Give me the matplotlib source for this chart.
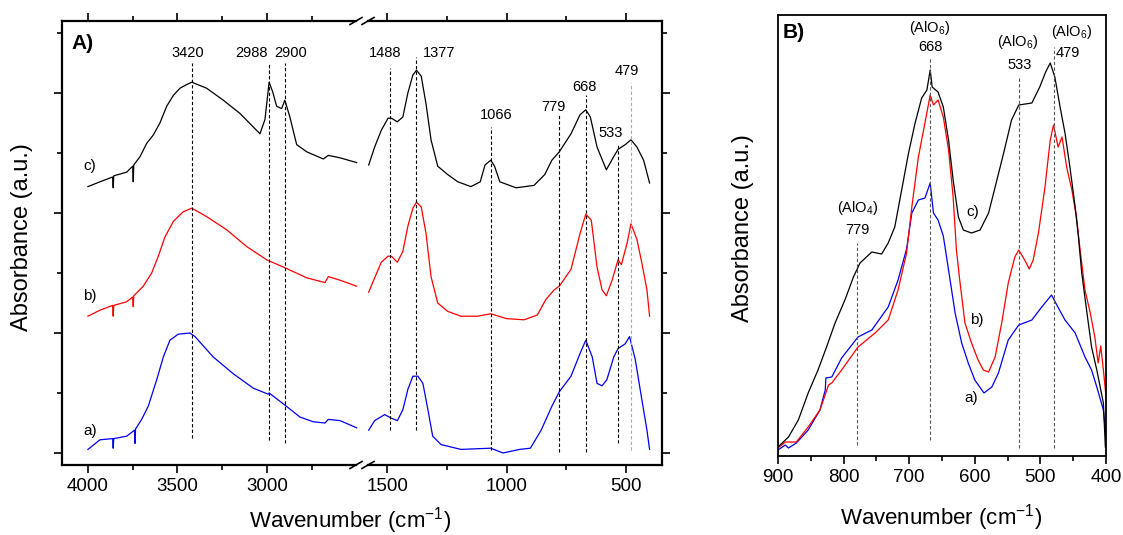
import matplotlib
matplotlib.use("Agg")
import matplotlib.pyplot as plt
from matplotlib.lines import Line2D
from matplotlib.ticker import FixedLocator, NullFormatter

plt.rcParams['font.family'] = ['Liberation Sans', 'DejaVu Sans']
plt.rcParams['mathtext.default'] = 'regular'

W, H = 1123, 535

# ---- panel A, high wavenumber part (4000-2500) ----
a_hi_wn = [4000, 3933, 3862, 3859, 3856, 3784, 3740, 3737, 3734, 3700, 3663, 3616, 3579,
           3542, 3496, 3430, 3402, 3300, 3188, 3076, 2993, 2988, 2909, 2816, 2741, 2676,
           2657, 2592, 2499]
a_hi_y = [0.03, 0.11, 0.12, 0.04, 0.12, 0.14, 0.19, 0.08, 0.2, 0.28, 0.39, 0.61, 0.80,
          0.94, 0.99, 1.0, 0.97, 0.80, 0.66, 0.54, 0.49, 0.5, 0.41, 0.30, 0.26, 0.25,
          0.28, 0.27, 0.21]

b_hi_wn = [4000, 3933, 3862, 3859, 3856, 3784, 3750, 3747, 3744, 3691, 3644, 3607, 3570,
           3523, 3468, 3420, 3337, 3225, 3113, 3002, 2909, 2778, 2676, 2657, 2592, 2499]
b_hi_y = [1.14, 1.19, 1.23, 1.14, 1.23, 1.26, 1.30, 1.22, 1.31, 1.39, 1.50, 1.64, 1.80,
          1.93, 2.01, 2.04, 1.97, 1.86, 1.72, 1.61, 1.55, 1.46, 1.42, 1.47, 1.44, 1.39]

c_hi_wn = [4000, 3933, 3862, 3859, 3856, 3784, 3750, 3747, 3744, 3709, 3672, 3635, 3598,
           3560, 3523, 3486, 3449, 3420, 3337, 3244, 3151, 3039, 3011, 2988, 2968, 2946,
           2918, 2900, 2872, 2834, 2778, 2685, 2657, 2592, 2499]
c_hi_y = [2.22, 2.26, 2.30, 2.21, 2.31, 2.34, 2.39, 2.26, 2.40, 2.47, 2.58, 2.65, 2.75,
          2.89, 2.98, 3.04, 3.07, 3.09, 3.04, 2.94, 2.83, 2.66, 2.78, 3.09, 3.01, 2.89,
          2.87, 2.94, 2.80, 2.57, 2.51, 2.45, 2.48, 2.46, 2.42]

# ---- panel A, low wavenumber part (1600-400) ----
a_lo_wn = [1577, 1552, 1510, 1482, 1457, 1434, 1413, 1392, 1371, 1350, 1329, 1309, 1274,
           1191, 1066, 1015, 945, 900, 855, 810, 779, 730, 692, 668, 641, 621, 600, 580,
           551, 533, 503, 485, 461, 433, 412, 401]
a_lo_y = [0.19, 0.27, 0.32, 0.29, 0.27, 0.36, 0.53, 0.64, 0.64, 0.58, 0.36, 0.14, 0.07,
          0.03, 0.04, 0.0, 0.03, 0.04, 0.19, 0.39, 0.51, 0.64, 0.83, 0.94, 0.80, 0.58,
          0.56, 0.61, 0.80, 0.87, 0.91, 0.97, 0.78, 0.44, 0.19, 0.03]

b_lo_wn = [1577, 1552, 1524, 1496, 1482, 1457, 1434, 1413, 1392, 1377, 1357, 1337, 1316,
           1288, 1246, 1191, 1121, 1066, 1000, 927, 871, 835, 800, 779, 730, 692, 668,
           645, 621, 600, 582, 558, 533, 519, 495, 479, 454, 433, 412, 401]
b_lo_y = [1.34, 1.46, 1.59, 1.64, 1.64, 1.59, 1.68, 1.89, 2.04, 2.09, 2.05, 1.83, 1.47,
          1.25, 1.18, 1.14, 1.14, 1.16, 1.12, 1.11, 1.15, 1.28, 1.36, 1.39, 1.53, 1.83,
          1.99, 1.94, 1.55, 1.36, 1.31, 1.44, 1.61, 1.57, 1.75, 1.91, 1.78, 1.58, 1.36,
          1.14]

c_lo_wn = [1577, 1552, 1524, 1496, 1482, 1457, 1434, 1413, 1392, 1377, 1357, 1337, 1316,
           1288, 1246, 1204, 1149, 1110, 1090, 1066, 1050, 1028, 960, 885, 840, 810, 779,
           730, 692, 668, 649, 621, 582, 551, 533, 503, 479, 454, 426, 401]
c_lo_y = [2.40, 2.55, 2.69, 2.79, 2.79, 2.76, 2.80, 3.00, 3.15, 3.19, 3.14, 2.91, 2.61,
          2.39, 2.32, 2.26, 2.22, 2.26, 2.40, 2.44, 2.39, 2.26, 2.21, 2.23, 2.32, 2.44,
          2.51, 2.66, 2.82, 2.86, 2.80, 2.55, 2.36, 2.47, 2.53, 2.57, 2.61, 2.55, 2.44,
          2.25]

# band markers of panel A: position, line top, line bottom, label x, label y
a_bands_hi = [3420, 2988, 2900]
a_bands_hi_top = [3.25, 3.25, 3.25]
a_bands_hi_bot = [0.125, 0.11, 0.08]
a_labels_hi_x = [3440, 3089, 2865]
a_labels_hi_y = [3.33, 3.33, 3.33]

a_bands_lo = [1488, 1377, 1066, 779, 668, 533, 479]
a_bands_lo_top = [3.21, 3.3, 2.72, 2.82, 2.98, 2.58, 3.08]
a_bands_lo_bot = [0.19, 0.19, 0.025, 0.01, 0.01, 0.08, 0.025]
a_labels_lo_x = [1508, 1282, 1044, 805, 672, 563, 496]
a_labels_lo_y = [3.33, 3.33, 2.82, 2.88, 3.05, 2.67, 3.18]

# ---- panel B, 900-400 ----
b_a_wn = [900, 889, 884, 872, 854, 836, 828, 827, 818, 803, 778, 757, 732, 717, 704, 696,
          686, 676, 668, 663, 656, 648, 640, 630, 620, 610, 600, 586, 574, 564, 549, 533,
          513, 498, 483, 475, 462.5, 447, 432, 422, 414, 404, 399]
b_a_y = [0.06, 0.11, 0.08, 0.13, 0.26, 0.46, 0.66, 0.78, 0.79, 0.98, 1.19, 1.26, 1.49,
         1.76, 2.07, 2.43, 2.56, 2.58, 2.73, 2.43, 2.36, 2.2, 1.86, 1.43, 1.13, 0.93,
         0.76, 0.63, 0.69, 0.83, 1.16, 1.31, 1.36, 1.49, 1.61, 1.51, 1.36, 1.23, 0.99,
         0.86, 0.69, 0.46, 0.13]

b_b_wn = [900, 889, 872, 854, 836, 823, 818, 803, 778, 752, 732, 717, 704, 696, 686, 676,
          668, 663, 656, 648, 640, 633, 628, 623, 615, 605, 595, 587, 579, 569, 559, 549,
          539, 533, 524, 517, 511, 503, 493, 485, 480, 473, 467, 460, 452, 445, 440, 432,
          424, 417, 412, 408, 404, 399]
b_b_y = [0.08, 0.14, 0.14, 0.29, 0.46, 0.71, 0.73, 0.86, 1.09, 1.23, 1.36, 1.66, 2.03,
         2.49, 2.99, 3.33, 3.61, 3.51, 3.56, 3.39, 3.06, 2.59, 2.06, 1.76, 1.33, 1.13,
         0.96, 0.86, 0.84, 0.99, 1.33, 1.73, 1.99, 2.06, 1.96, 1.87, 1.96, 2.23, 2.69,
         3.16, 3.31, 3.09, 3.19, 2.89, 2.66, 2.39, 2.09, 1.66, 1.43, 1.19, 0.93, 1.1,
         0.86, 0.53]

b_c_wn = [900, 884, 869, 854, 839, 826, 813, 798, 785, 775, 757, 742, 732, 722, 711.5, 701,
          691, 681, 673, 668, 665, 656, 648, 640, 633, 625, 617.5, 605, 592, 579, 569, 556,
          544, 533, 513, 501, 492, 485, 478, 470, 462.5, 455, 447, 442, 437, 429, 422,
          414, 404, 401]
b_c_y = [0.09, 0.19, 0.36, 0.63, 0.86, 1.09, 1.33, 1.56, 1.79, 1.93, 2.04, 2.02, 2.13,
         2.29, 2.66, 3.03, 3.33, 3.58, 3.66, 3.86, 3.69, 3.64, 3.49, 3.16, 2.76, 2.39,
         2.26, 2.23, 2.26, 2.43, 2.69, 3.03, 3.36, 3.51, 3.53, 3.69, 3.84, 3.93, 3.79,
         3.49, 3.23, 2.89, 2.49, 2.19, 1.83, 1.43, 1.09, 0.86, 0.53, 0.09]

b_bands = [779, 668, 533, 479]
b_bands_top = [2.13, 3.98, 3.79, 4.09]
b_bands_bot = [0.11, 0.16, 0.08, 0.08]
b_species = ['(AlO$_4$)', '(AlO$_6$)', '(AlO$_6$)', '(AlO$_6$)']
b_species_x = [779, 668, 534, 453]
b_species_y = [2.48, 4.28, 4.14, 4.24]
b_num_x = [779, 668, 531, 458]
b_num_y = [2.26, 4.09, 3.91, 4.03]

curve_colors = ['#0000ee', '#ff0000', 'black']
curve_names = ['a)', 'b)', 'c)']


def fx(px):
    return px / W


def fy(py):
    return 1 - py / H


fig = plt.figure(figsize=(W / 100, H / 100), dpi=100)

# broken x axis made of two adjacent axes
ax1 = fig.add_axes([fx(62), fy(465), fx(300), (465 - 21) / H])
ax2 = fig.add_axes([fx(362), fy(465), fx(300), (465 - 21) / H], sharey=ax1)

for (x, y), col in zip([(a_hi_wn, a_hi_y), (b_hi_wn, b_hi_y), (c_hi_wn, c_hi_y)], curve_colors):
    ax1.plot(x, y, color=col, lw=0.9)
for (x, y), col in zip([(a_lo_wn, a_lo_y), (b_lo_wn, b_lo_y), (c_lo_wn, c_lo_y)], curve_colors):
    ax2.plot(x, y, color=col, lw=0.9)

for wn, t, b in zip(a_bands_hi, a_bands_hi_top, a_bands_hi_bot):
    ax1.plot([wn, wn], [b, t], color='black', lw=0.8, ls=(0, (3, 2)))
for wn, lx, ly in zip(a_bands_hi, a_labels_hi_x, a_labels_hi_y):
    ax1.text(lx, ly, str(wn), ha='center', va='center', fontsize=10.5)
for wn, t, b in zip(a_bands_lo, a_bands_lo_top, a_bands_lo_bot):
    col = '#aaaaaa' if wn == 479 else 'black'
    ax2.plot([wn, wn], [b, t], color=col, lw=0.8, ls=(0, (3, 2)))
for wn, lx, ly in zip(a_bands_lo, a_labels_lo_x, a_labels_lo_y):
    ax2.text(lx, ly, str(wn), ha='center', va='center', fontsize=10.5)

for name, y in zip(curve_names, [0.18, 1.31, 2.39]):
    ax1.text(3990, y, name, ha='center', va='center', fontsize=11)
ax1.text(0.033, 0.95, 'A)', transform=ax1.transAxes, fontsize=15,
         fontweight='bold', ha='left', va='center')

ax1.set_xlim(4145, 2469)
ax2.set_xlim(1605, 349)
ax1.set_ylim(-0.1, 3.6)

ax1.xaxis.set_major_locator(FixedLocator([4000, 3500, 3000]))
ax1.xaxis.set_minor_locator(FixedLocator([3750, 3250, 2750]))
ax2.xaxis.set_major_locator(FixedLocator([1500, 1000, 500]))
ax2.xaxis.set_minor_locator(FixedLocator([1250, 750]))
ax1.yaxis.set_major_locator(FixedLocator([0, 1, 2, 3]))
ax1.yaxis.set_minor_locator(FixedLocator([0.5, 1.5, 2.5, 3.5]))
ax1.yaxis.set_major_formatter(NullFormatter())

for ax in (ax1, ax2):
    for s in ax.spines.values():
        s.set_linewidth(1.6)
    ax.tick_params(which='both', direction='out', top=True, width=1.2, labelsize=13.5)
    ax.tick_params(which='major', length=6)
    ax.tick_params(which='minor', length=3.5)

ax1.spines['right'].set_visible(False)
ax2.spines['left'].set_visible(False)
ax1.tick_params(which='both', right=False)
ax2.tick_params(which='both', left=False, right=True, labelleft=False, labelright=False)
ax1.spines['top'].set_bounds(4145, 2503)
ax1.spines['bottom'].set_bounds(4145, 2503)
ax2.spines['top'].set_bounds(1579, 349)
ax2.spines['bottom'].set_bounds(1579, 349)

# break marks on top and bottom spines
for py in (21, 465):
    for px in (356, 368):
        fig.add_artist(Line2D([fx(px - 6), fx(px + 6)], [fy(py + 3.5), fy(py - 3.5)],
                              color='black', lw=1.2))

fig.text(fx(22), fy(237), 'Absorbance (a.u.)', rotation=90, ha='center', va='center',
         fontsize=17)
fig.text(fx(350), fy(521), 'Wavenumber (cm$^{-1}$)', ha='center', va='center', fontsize=16)

# ---- panel B ----
axb = fig.add_axes([fx(778), fy(456), fx(1106 - 778), (456 - 15) / H])
for (x, y), col in zip([(b_a_wn, b_a_y), (b_b_wn, b_b_y), (b_c_wn, b_c_y)], curve_colors):
    axb.plot(x, y, color=col, lw=0.9)

for wn, t, b in zip(b_bands, b_bands_top, b_bands_bot):
    axb.plot([wn, wn], [b, t], color='#555555', lw=0.8, ls=(0, (3, 2)))
for sp, sx, sy in zip(b_species, b_species_x, b_species_y):
    axb.text(sx, sy, sp, ha='center', va='center', fontsize=10.5)
for wn, nx, ny in zip(b_bands, b_num_x, b_num_y):
    axb.text(nx, ny, str(wn), ha='center', va='center', fontsize=10.5)

for name, x, y in zip(curve_names, [605, 597, 603], [0.58, 1.36, 2.44]):
    axb.text(x, y, name, ha='center', va='center', fontsize=11)
axb.text(0.015, 0.96, 'B)', transform=axb.transAxes, fontsize=15,
         fontweight='bold', ha='left', va='center')

axb.set_xlim(900, 400)
axb.set_ylim(0, 4.41)
axb.xaxis.set_major_locator(FixedLocator([900, 800, 700, 600, 500, 400]))
axb.xaxis.set_minor_locator(FixedLocator([850, 750, 650, 550, 450]))
axb.set_yticks([])
for s in axb.spines.values():
    s.set_linewidth(1.3)
axb.tick_params(which='both', direction='out', width=1.2, labelsize=13.5)
axb.tick_params(which='major', length=6)
axb.tick_params(which='minor', length=3.5)

fig.text(fx(743), fy(228), 'Absorbance (a.u.)', rotation=90, ha='center', va='center',
         fontsize=17)
fig.text(fx(941), fy(518), 'Wavenumber (cm$^{-1}$)', ha='center', va='center', fontsize=16)

fig.savefig('out.png', dpi=100)
